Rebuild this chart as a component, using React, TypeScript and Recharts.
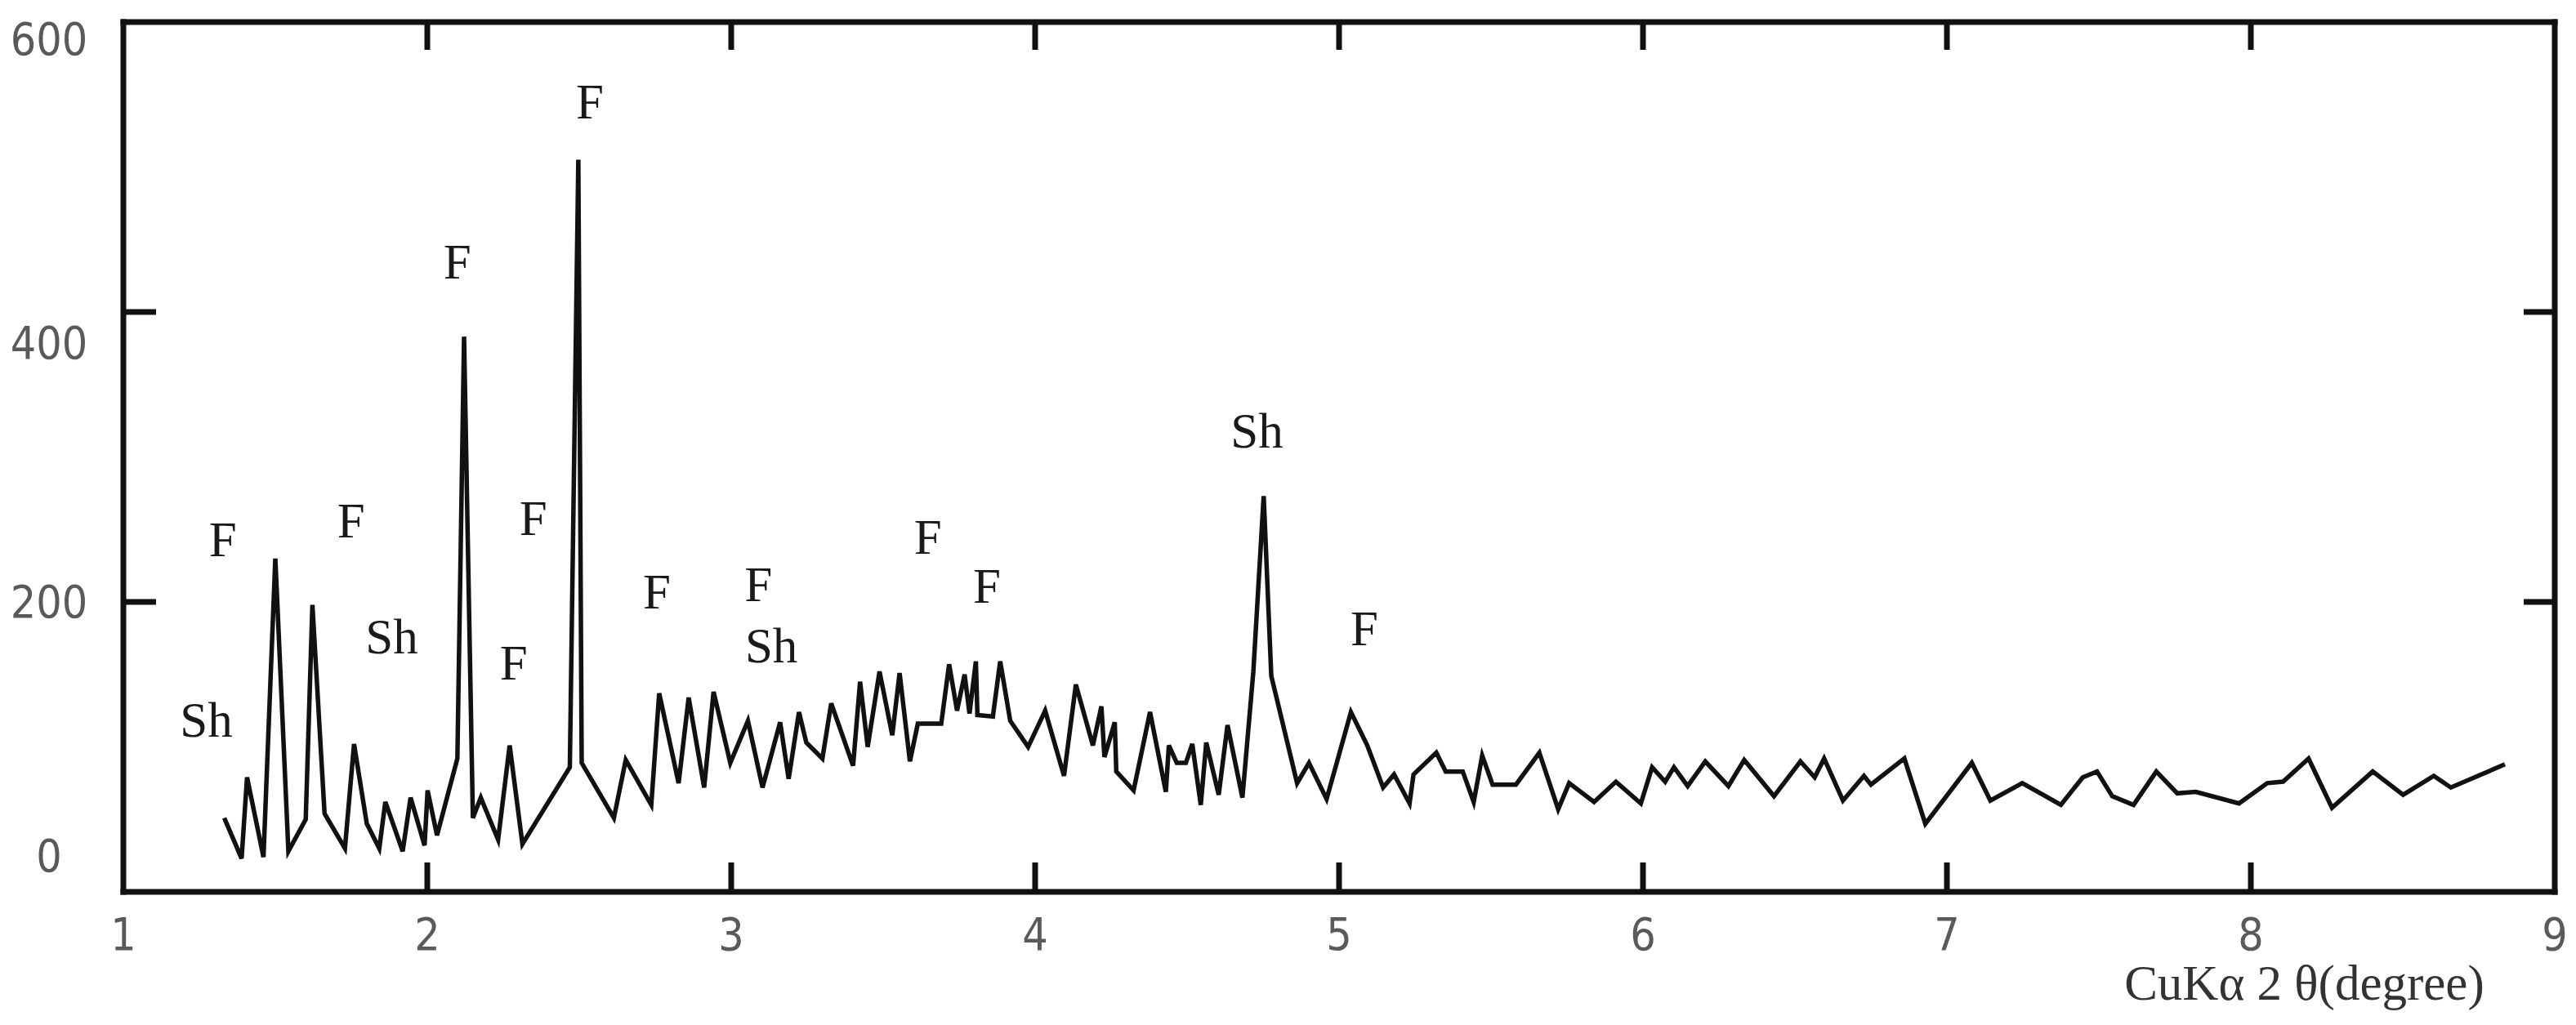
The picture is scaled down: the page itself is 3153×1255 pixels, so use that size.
import React from 'react';
import { LineChart, Line, XAxis, YAxis, ReferenceDot } from 'recharts';

// 2θ positions (degrees) and intensities
const twoTheta = [
  1.332, 1.389, 1.407, 1.461, 1.5, 1.543, 1.6, 1.622, 1.662, 1.729,
  1.759, 1.801, 1.842, 1.862, 1.919, 1.945, 1.991, 2.001, 2.032, 2.099,
  2.121, 2.15, 2.176, 2.233, 2.271, 2.313, 2.469, 2.497, 2.508, 2.614,
  2.653, 2.737, 2.763, 2.827, 2.86, 2.911, 2.942, 2.997, 3.055, 3.103,
  3.161, 3.189, 3.223, 3.247, 3.3, 3.329, 3.401, 3.424, 3.449, 3.488,
  3.53, 3.554, 3.588, 3.614, 3.691, 3.717, 3.743, 3.768, 3.784, 3.805,
  3.81, 3.861, 3.885, 3.918, 3.977, 4.033, 4.095, 4.134, 4.19, 4.218,
  4.228, 4.262, 4.267, 4.324, 4.378, 4.43, 4.44, 4.466, 4.496, 4.517,
  4.545, 4.563, 4.604, 4.633, 4.682, 4.718, 4.752, 4.777, 4.862, 4.901,
  4.959, 5.039, 5.093, 5.145, 5.181, 5.232, 5.245, 5.32, 5.351, 5.407,
  5.443, 5.471, 5.505, 5.582, 5.659, 5.721, 5.757, 5.839, 5.911, 5.993,
  6.03, 6.073, 6.102, 6.147, 6.205, 6.281, 6.333, 6.431, 6.518, 6.565,
  6.596, 6.658, 6.727, 6.75, 6.86, 6.929, 7.082, 7.143, 7.248, 7.375,
  7.447, 7.494, 7.544, 7.614, 7.689, 7.758, 7.819, 7.961, 8.054, 8.106,
  8.19, 8.267, 8.401, 8.501, 8.602, 8.658, 8.836,
];

const intensity = [
  51, 23, 79, 24, 230, 28, 50, 198, 54, 30,
  102, 47, 30, 62, 28, 65, 32, 70, 39, 92,
  383, 51, 65, 36, 101, 33, 86, 505, 89, 51,
  91, 60, 137, 75, 134, 72, 138, 89, 118, 72,
  117, 78, 124, 103, 92, 130, 87, 145, 100, 152,
  108, 151, 90, 116, 116, 157, 125, 150, 123, 159,
  122, 121, 159, 118, 100, 125, 80, 143, 101, 128,
  93, 117, 83, 70, 124, 69, 101, 89, 89, 102,
  60, 103, 67, 115, 65, 152, 273, 149, 75, 89,
  64, 124, 101, 72, 81, 61, 81, 96, 83, 83,
  62, 94, 74, 74, 96, 57, 75, 62, 76, 61,
  86, 76, 86, 73, 90, 73, 91, 66, 90, 79,
  92, 63, 80, 74, 92, 47, 89, 63, 75, 60,
  79, 83, 66, 60, 83, 68, 69, 61, 75, 76,
  92, 58, 83, 67, 80, 72, 88,
];

const xTicks = [1, 2, 3, 4, 5, 6, 7, 8, 9];
const xInnerTicks = [2, 3, 4, 5, 6, 7, 8];
const yTicks = [0, 200, 400, 600];
const yInnerTicks = [200, 400];

// phase annotations, label centres in data units
const peakText = ['Sh', 'F', 'F', 'Sh', 'F', 'F', 'F', 'F', 'F', 'F', 'Sh', 'F', 'F', 'Sh', 'F'];
const peakX = [1.273, 1.327, 1.749, 1.883, 2.099, 2.284, 2.349, 2.535, 2.755, 3.089, 3.132, 3.647, 3.841, 4.73, 5.083];
const peakY = [119, 243, 256, 176, 435, 158, 258, 545, 207, 212, 170, 245, 211, 318, 182];

const xTitle = 'CuKα 2 θ(degree)';

const data = twoTheta.map((t, i) => ({ t, v: intensity[i] }));
const peaks = peakText.map((s, i) => ({ s, x: peakX[i], y: peakY[i] }));

const FRAME = '#111';
const FRAME_W = 7;
const TICK_FONT = "'Liberation Sans Narrow', 'DejaVu Sans Condensed', Roboto, sans-serif";
const SERIF = "'Liberation Serif', 'DejaVu Serif', serif";
const Y_LABEL_DY: Record<number, number> = { 0: -44, 200: 0, 400: 38, 600: 21 };

const BottomTick = (p: any) => {
  const { x, y, payload } = p;
  const v = payload.value;
  return (
    <g>
      {xInnerTicks.includes(v) && (
        <line x1={x} y1={y} x2={x} y2={y - 36} stroke={FRAME} strokeWidth={FRAME_W} />
      )}
      <text x={x} y={y + 52} textAnchor="middle" dominantBaseline="central"
        fontFamily={TICK_FONT} fontSize={55} fill="#5a5a5a">{v}</text>
    </g>
  );
};

const TopTick = (p: any) => {
  const { x, y, payload } = p;
  if (!xInnerTicks.includes(payload.value)) return <g />;
  return <line x1={x} y1={y} x2={x} y2={y + 34} stroke={FRAME} strokeWidth={FRAME_W} />;
};

const LeftTick = (p: any) => {
  const { x, y, payload } = p;
  const v = payload.value;
  return (
    <g>
      {yInnerTicks.includes(v) && (
        <line x1={x} y1={y} x2={x + 40} y2={y} stroke={FRAME} strokeWidth={FRAME_W} />
      )}
      <text x={x - 91} y={y + (Y_LABEL_DY[v] ?? 0)} textAnchor="middle" dominantBaseline="central"
        fontFamily={TICK_FONT} fontSize={55} fill="#5a5a5a">{v}</text>
    </g>
  );
};

const RightTick = (p: any) => {
  const { x, y, payload } = p;
  if (!yInnerTicks.includes(payload.value)) return <g />;
  return <line x1={x} y1={y} x2={x - 38} y2={y} stroke={FRAME} strokeWidth={FRAME_W} />;
};

const XTitle = (p: any) => {
  const vb = p.viewBox || {};
  return (
    <text x={vb.x + vb.width * 0.897} y={vb.y + 132} textAnchor="middle"
      fontFamily={SERIF} fontSize={61} fill="#333">{xTitle}</text>
  );
};

const axisLine = { stroke: FRAME, strokeWidth: FRAME_W, strokeLinecap: 'square' as const };

export default function App() {
  return (
    <div>
      <style>{'html,body{margin:0;padding:0;overflow:hidden;background:#fff}'}</style>
      <LineChart width={3153} height={1255} data={data}
        margin={{ top: 26, right: 25, bottom: 162, left: 150 }}>
        <XAxis xAxisId="b" dataKey="t" type="number" domain={[1, 9]} ticks={xTicks}
          allowDataOverflow height={1} tickSize={0} tickMargin={0} tickLine={false}
          axisLine={axisLine} tick={<BottomTick />} interval={0}
          label={<XTitle />} />
        <XAxis xAxisId="t" dataKey="t" orientation="top" type="number" domain={[1, 9]} ticks={xTicks}
          allowDataOverflow height={1} tickSize={0} tickMargin={0} tickLine={false}
          axisLine={axisLine} tick={<TopTick />} interval={0} />
        <YAxis yAxisId="l" type="number" domain={[0, 600]} ticks={yTicks}
          allowDataOverflow width={1} tickSize={0} tickMargin={0} tickLine={false}
          axisLine={axisLine} tick={<LeftTick />} interval={0} />
        <YAxis yAxisId="r" dataKey="v" orientation="right" type="number" domain={[0, 600]} ticks={yTicks}
          allowDataOverflow width={1} tickSize={0} tickMargin={0} tickLine={false}
          axisLine={axisLine} tick={<RightTick />} interval={0} />
        <Line xAxisId="b" yAxisId="l" type="linear" dataKey="v" stroke="#111"
          strokeWidth={5.5} dot={false} activeDot={false} isAnimationActive={false} />
        {peaks.map((pk, i) => (
          <ReferenceDot key={i} xAxisId="b" yAxisId="l" x={pk.x} y={pk.y} r={0}
            ifOverflow="visible"
            shape={(sp: any) => (
              <text x={sp.cx} y={sp.cy} dy="0.34em" textAnchor="middle"
                fontFamily={SERIF} fontSize={61} fill="#1a1a1a">{pk.s}</text>
            )} />
        ))}
      </LineChart>
    </div>
  );
}
